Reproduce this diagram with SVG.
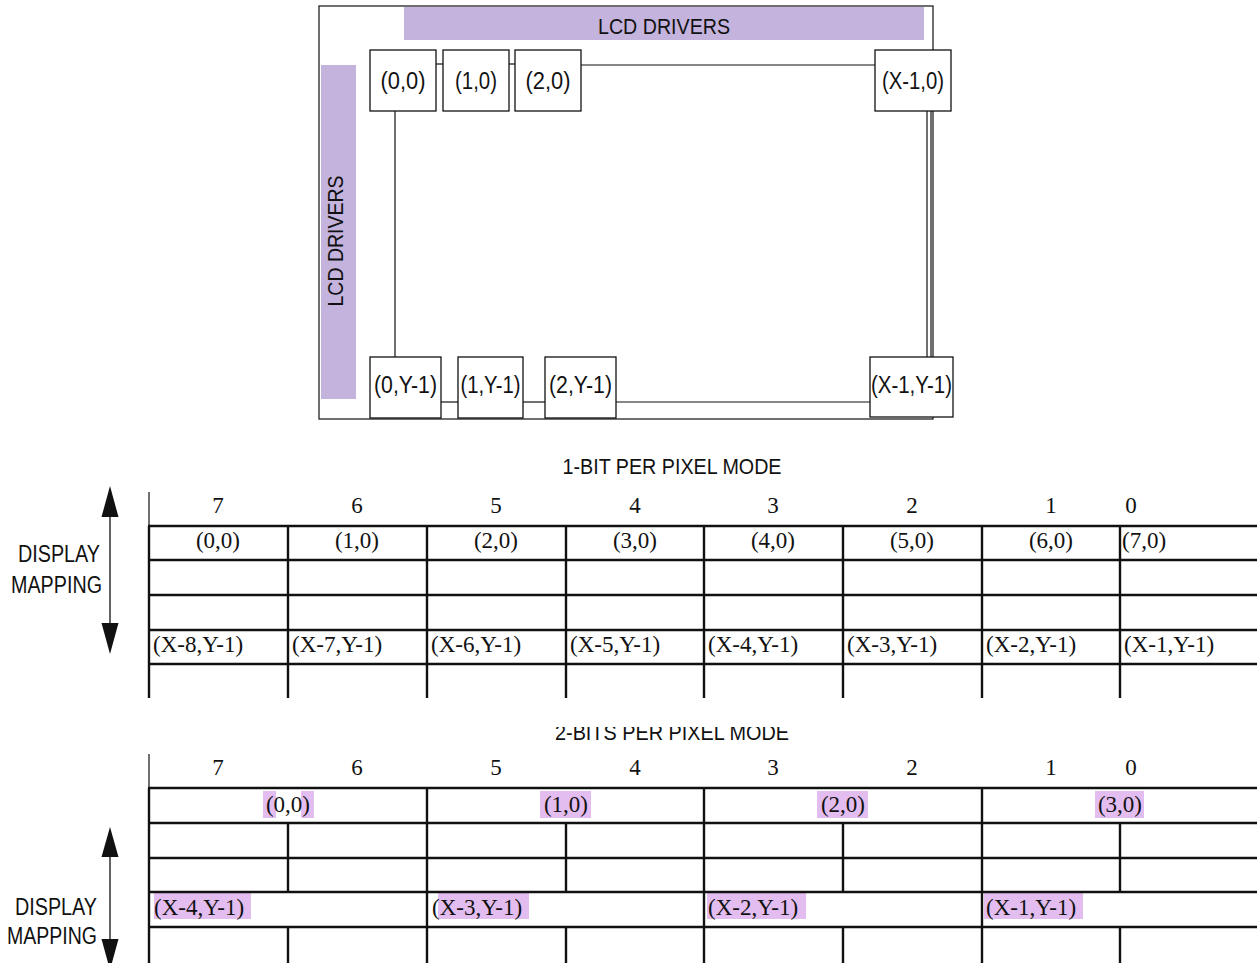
<svg xmlns="http://www.w3.org/2000/svg" width="1257" height="963" viewBox="0 0 1257 963">
<style>
.sans{font-family:"Liberation Sans",Arial,sans-serif;fill:#111}
.serif{font-family:"Liberation Serif","Times New Roman",serif;fill:#111;font-size:23px}
.box{fill:#fff;stroke:#111;stroke-width:1.3}
.thin{stroke:#111;stroke-width:1.2;fill:none}
.grid{stroke:#111;stroke-width:2.4;fill:none}
.bar{fill:#c4b3dd}
.hl{fill:#e4bdf0}
</style>
<defs>
<clipPath id="clipTitle"><rect x="0" y="727" width="1257" height="30"/></clipPath>
</defs>

<!-- top panel -->
<g id="panel">
<rect x="319" y="6" width="614" height="413" fill="#fff" stroke="#222" stroke-width="1.3"/>
<rect class="bar" x="404" y="7" width="520" height="33"/>
<text class="sans" x="664" y="34" font-size="22" text-anchor="middle" textLength="132" lengthAdjust="spacingAndGlyphs">LCD DRIVERS</text>
<rect class="bar" x="321" y="65" width="35" height="334"/>
<text class="sans" transform="translate(343,241) rotate(-90)" font-size="22" text-anchor="middle" textLength="131" lengthAdjust="spacingAndGlyphs">LCD DRIVERS</text>
</g>

<g id="connectors">
<line class="thin" x1="436" y1="64" x2="443" y2="64"/>
<line class="thin" x1="509" y1="64" x2="515" y2="64"/>
<line class="thin" x1="581" y1="65" x2="875" y2="65"/>
<line class="thin" x1="395" y1="111" x2="395" y2="357"/>
<line class="thin" x1="927" y1="111" x2="927" y2="357"/>
<line class="thin" x1="931" y1="111" x2="931" y2="357"/>
<line class="thin" x1="441" y1="402" x2="458" y2="402"/>
<line class="thin" x1="523" y1="402" x2="545" y2="402"/>
<line class="thin" x1="616" y1="402" x2="870" y2="402"/>
</g>

<g id="n00"><rect class="box" x="370" y="50" width="66" height="61"/><text class="sans" x="403" y="89" font-size="23" text-anchor="middle" textLength="45" lengthAdjust="spacingAndGlyphs">(0,0)</text></g>
<g id="n10"><rect class="box" x="443" y="50" width="66" height="61"/><text class="sans" x="476" y="89" font-size="23" text-anchor="middle" textLength="42" lengthAdjust="spacingAndGlyphs">(1,0)</text></g>
<g id="n20"><rect class="box" x="515" y="50" width="66" height="61"/><text class="sans" x="548" y="89" font-size="23" text-anchor="middle" textLength="45" lengthAdjust="spacingAndGlyphs">(2,0)</text></g>
<g id="nX0"><rect class="box" x="875" y="50" width="76" height="61"/><text class="sans" x="913" y="89" font-size="23" text-anchor="middle" textLength="62" lengthAdjust="spacingAndGlyphs">(X-1,0)</text></g>
<g id="n0Y"><rect class="box" x="370" y="357" width="71" height="61"/><text class="sans" x="405.5" y="393" font-size="23" text-anchor="middle" textLength="63" lengthAdjust="spacingAndGlyphs">(0,Y-1)</text></g>
<g id="n1Y"><rect class="box" x="458" y="357" width="65" height="61"/><text class="sans" x="490.5" y="393" font-size="23" text-anchor="middle" textLength="60" lengthAdjust="spacingAndGlyphs">(1,Y-1)</text></g>
<g id="n2Y"><rect class="box" x="545" y="357" width="71" height="61"/><text class="sans" x="580.5" y="393" font-size="23" text-anchor="middle" textLength="63" lengthAdjust="spacingAndGlyphs">(2,Y-1)</text></g>
<g id="nXY"><rect class="box" x="870" y="357" width="83" height="60"/><text class="sans" x="911.5" y="393" font-size="23" text-anchor="middle" textLength="81" lengthAdjust="spacingAndGlyphs">(X-1,Y-1)</text></g>

<!-- 1-bit mode -->
<g id="mode1">
<text class="sans" x="672" y="474" font-size="22" text-anchor="middle" textLength="219" lengthAdjust="spacingAndGlyphs">1-BIT PER PIXEL MODE</text>
<line class="thin" x1="149" y1="492" x2="149" y2="526"/>
<g class="serif" text-anchor="middle">
<text x="218" y="513">7</text><text x="357" y="513">6</text><text x="496" y="513">5</text><text x="635" y="513">4</text>
<text x="773" y="513">3</text><text x="912" y="513">2</text><text x="1051" y="513">1</text><text x="1131" y="513">0</text>
</g>
<path class="grid" d="M148 526H1257M148 560H1257M148 595H1257M148 630H1257M148 664H1257
M149 526V698M288 526V698M427 526V698M566 526V698M704 526V698M843 526V698M982 526V698M1120 526V698"/>
<g class="serif" text-anchor="middle">
<text x="218" y="548">(0,0)</text><text x="357" y="548">(1,0)</text><text x="496" y="548">(2,0)</text><text x="635" y="548">(3,0)</text>
<text x="773" y="548">(4,0)</text><text x="912" y="548">(5,0)</text><text x="1051" y="548">(6,0)</text>
</g>
<text class="serif" x="1122" y="548">(7,0)</text>
<g class="serif">
<text x="153" y="652">(X-8,Y-1)</text><text x="292" y="652">(X-7,Y-1)</text><text x="431" y="652">(X-6,Y-1)</text><text x="570" y="652">(X-5,Y-1)</text>
<text x="708" y="652">(X-4,Y-1)</text><text x="847" y="652">(X-3,Y-1)</text><text x="986" y="652">(X-2,Y-1)</text><text x="1124" y="652">(X-1,Y-1)</text>
</g>
<text class="sans" x="100" y="562" font-size="23" text-anchor="end" textLength="82" lengthAdjust="spacingAndGlyphs">DISPLAY</text>
<text class="sans" x="102" y="593" font-size="23" text-anchor="end" textLength="91" lengthAdjust="spacingAndGlyphs">MAPPING</text>
<line x1="110" y1="510" x2="110" y2="630" stroke="#111" stroke-width="1.3"/>
<polygon points="110,486 118.5,517 101.5,517" fill="#111"/>
<polygon points="110,654 118.5,623 101.5,623" fill="#111"/>
</g>

<!-- 2-bit mode -->
<g id="mode2">
<text class="sans" x="672" y="740" font-size="22" text-anchor="middle" textLength="234" lengthAdjust="spacingAndGlyphs" clip-path="url(#clipTitle)">2-BITS PER PIXEL MODE</text>
<line class="thin" x1="149" y1="754" x2="149" y2="788"/>
<g class="serif" text-anchor="middle">
<text x="218" y="775">7</text><text x="357" y="775">6</text><text x="496" y="775">5</text><text x="635" y="775">4</text>
<text x="773" y="775">3</text><text x="912" y="775">2</text><text x="1051" y="775">1</text><text x="1131" y="775">0</text>
</g>
<g id="hl">
<rect class="hl" x="263" y="791" width="13" height="27"/>
<rect class="hl" x="301" y="791" width="13" height="27"/>
<rect class="hl" x="540" y="791" width="51" height="27"/>
<rect class="hl" x="817" y="791" width="51" height="27"/>
<rect class="hl" x="1095" y="791" width="49" height="27"/>
<rect class="hl" x="154" y="893" width="97" height="26"/>
<rect class="hl" x="438" y="893" width="91" height="26"/>
<rect class="hl" x="707" y="893" width="99" height="26"/>
<rect class="hl" x="984" y="893" width="99" height="26"/>
</g>
<path class="grid" d="M148 788H1257M148 823H1257M148 858H1257M148 892H1257M148 927H1257
M149 788V963M427 788V963M704 788V963M982 788V963
M288 823V892M566 823V892M843 823V892M1120 823V892
M288 927V963M566 927V963M843 927V963M1120 927V963"/>
<g class="serif" text-anchor="middle">
<text x="288" y="812">(0,0)</text><text x="566" y="812">(1,0)</text><text x="843" y="812">(2,0)</text><text x="1120" y="812">(3,0)</text>
</g>
<g class="serif">
<text x="154" y="915">(X-4,Y-1)</text><text x="432" y="915">(X-3,Y-1)</text><text x="708" y="915">(X-2,Y-1)</text><text x="986" y="915">(X-1,Y-1)</text>
</g>
<text class="sans" x="97" y="915" font-size="23" text-anchor="end" textLength="82" lengthAdjust="spacingAndGlyphs">DISPLAY</text>
<text class="sans" x="97" y="944" font-size="23" text-anchor="end" textLength="90" lengthAdjust="spacingAndGlyphs">MAPPING</text>
<line x1="110" y1="850" x2="110" y2="945" stroke="#111" stroke-width="1.3"/>
<polygon points="110,827 118.5,857 101.5,857" fill="#111"/>
<polygon points="110,970 118.5,939 101.5,939" fill="#111"/>
</g>
</svg>
